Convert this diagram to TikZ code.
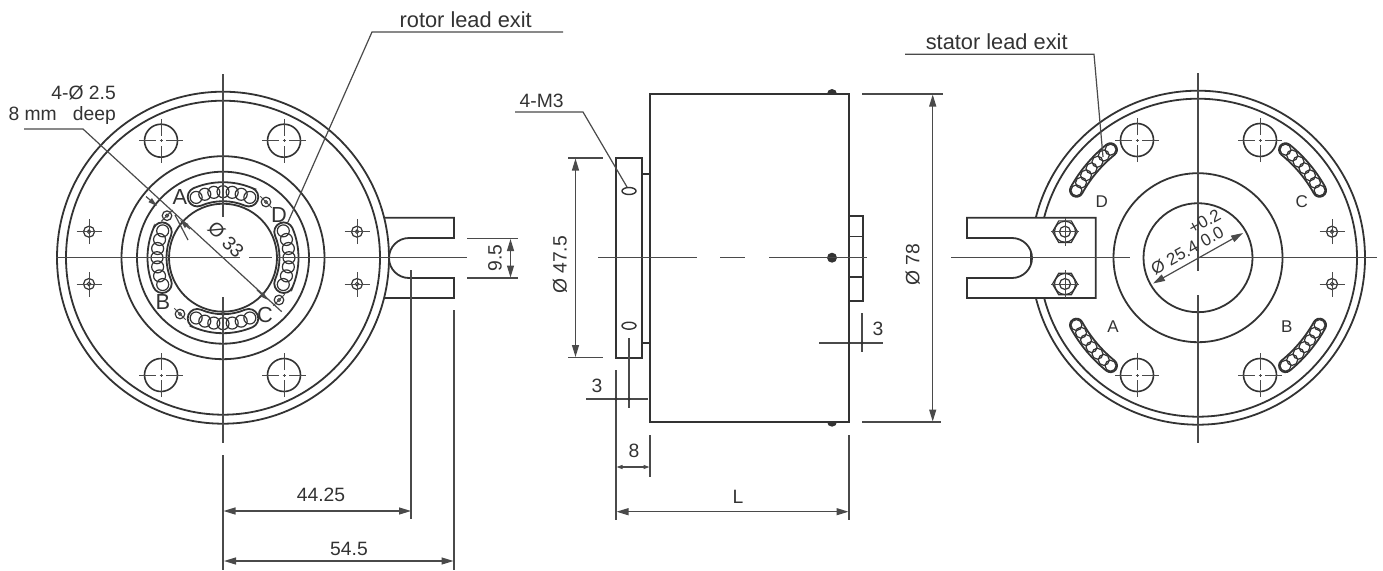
\documentclass[tikz,border=0pt]{standalone}
\usepackage{fontspec}
\setmainfont{Liberation Sans}
\usetikzlibrary{arrows.meta}
\definecolor{ink}{HTML}{333333}
\definecolor{inklight}{HTML}{4a4a4a}
\tikzset{
  part/.style={draw=ink,line width=1.8pt},
  ball/.style={draw=ink,line width=1.2pt},
  centre/.style={draw=inklight,line width=1.2pt},
  dimline/.style={draw=inklight,line width=1.2pt},
  tipboth/.style={dimline,{Stealth[length=12pt,width=7pt,inset=0pt]}-{Stealth[length=12pt,width=7pt,inset=0pt]}},
  tipsmall/.style={dimline,-{Stealth[length=9pt,width=5pt,inset=0pt]}},
  lbl/.style={inner sep=0pt,text=ink,font=\fontsize{19.3}{22}\selectfont},
  biglbl/.style={inner sep=0pt,text=ink,font=\fontsize{21.8}{24}\selectfont},
  midlbl/.style={inner sep=0pt,text=ink,font=\fontsize{17}{20}\selectfont},
  tickdot/.style={fill=ink,draw=none}
}
% big mounting hole: x y
\newcommand\bighole[2]{
  \draw[part,line width=1.6pt] (#1,#2) circle[radius=16.5];
  \draw[centre,line width=1pt] (#1-22,#2)--(#1-5,#2) (#1-1.5,#2)--(#1+1.5,#2) (#1+5,#2)--(#1+22,#2)
     (#1,#2-22)--(#1,#2-5) (#1,#2-1.5)--(#1,#2+1.5) (#1,#2+5)--(#1,#2+22);
}
% small threaded hole: x y
\newcommand\smallhole[2]{
  \draw[part,line width=1.2pt] (#1,#2) circle[radius=5.5];
  \draw[part,line width=1pt] (#1,#2) circle[radius=1.8];
  \draw[centre,line width=1pt] (#1-12.5,#2)--(#1+12.5,#2) (#1,#2-12.5)--(#1,#2+12.5);
}
% ring hole: x y angle
\newcommand\ringhole[3]{
  \draw[part,line width=1.2pt] (#1,#2) circle[radius=4.8];
  \draw[part,line width=.9pt] (#1,#2) circle[radius=1.6];
  \draw[centre,line width=1pt,shift={(#1,#2)}] (#3:8)--(#3+180:8);
}
% brush slot: cx cy radius a1 a2 halfwidth
\newcommand\slotarc[6]{
  \draw[part,shift={(#1,#2)}] (#4:{#3+#6})
    arc[start angle=#4,end angle=#5,radius={#3+#6}]
    arc[start angle=#5,end angle={#5+180},radius=#6]
    arc[start angle=#5,end angle=#4,radius={#3-#6}]
    arc[start angle={#4+180},end angle={#4+360},radius=#6] -- cycle;
}
% balls: cx cy radius ballradius list
\newcommand\slotballs[5]{
  \foreach \t in {#5} \draw[ball,shift={(#1,#2)}] (\t:#3) circle[radius=#4];
}
% bolt: x y
\newcommand\bolthead[2]{
  \draw[part,line width=1.2pt,shift={(#1,#2)}] (0:12.5)--(60:12.5)--(120:12.5)--(180:12.5)--(240:12.5)--(300:12.5)--cycle;
  \draw[part,line width=1.2pt] (#1,#2) circle[radius=10.5] (#1,#2) circle[radius=5.5];
  \draw[centre,line width=.9pt] (#1-14,#2)--(#1+14,#2) (#1,#2-14)--(#1,#2+14);
}
\begin{document}
\begin{tikzpicture}[x=1pt,y=1pt]
\useasboundingbox (0,0) rectangle (1383,-570);
\fill[white] (0,0) rectangle (1383,-570);

%% ===== LEFT VIEW =====
\coordinate (LC) at (223,-257.7);
\draw[part] (LC) circle[radius=166] (LC) circle[radius=157];
\draw[part] (LC) circle[radius=101.5] (LC) circle[radius=86] (LC) circle[radius=54];
\bighole{161}{-140.7}\bighole{284}{-140.7}\bighole{161}{-375}\bighole{284}{-375}
\smallhole{89}{-231.7}\smallhole{89}{-284}\smallhole{357}{-231.7}\smallhole{357}{-284}
\slotarc{223}{-257.7}{66}{67}{113}{9.5}
\slotarc{223}{-257.7}{66}{157}{203}{9.5}
\slotarc{223}{-257.7}{66}{247}{293}{9.5}
\slotarc{223}{-257.7}{66}{-23}{23}{9.5}
\slotballs{223}{-257.7}{66}{6}{66,74,82,90,98,106,114}
\slotballs{223}{-257.7}{66}{6}{156,164,172,180,188,196,204}
\slotballs{223}{-257.7}{66}{6}{246,254,262,270,278,286,294}
\slotballs{223}{-257.7}{66}{6}{-24,-16,-8,0,8,16,24}
\ringhole{167}{-215.7}{45}\ringhole{266}{-202}{135}\ringhole{279}{-300}{45}\ringhole{180}{-314}{135}
% fork
\draw[part] (384,-217.7)--(454,-217.7)--(454,-238)--(409,-238)
  arc[start angle=90,end angle=270,radius=20]--(454,-278)--(454,-298)--(384,-298);
% centre lines
\draw[centre] (56,-257.7)--(240,-257.7) (249,-257.7)--(272,-257.7) (277,-257.7)--(467,-257.7);
\draw[centre] (223,-74)--(223,-217) (223,-297)--(223,-443) (223,-455)--(223,-570);
% leaders
\coordinate (ldA) at (24,-129);
\coordinate (ldB) at (83,-129);
\coordinate (ldC) at (281.7,-311.7);
\draw[dimline] (ldA)--(ldB)--(LC)--(ldC);
\draw[tipsmall] (146,-196.5)--(157,-206);
\draw[tipsmall] (190,-229)--(180,-220);
\draw[tipsmall] (257,-290)--(268,-300);
\draw[dimline] (175,-215)--(188,-240);
\coordinate (roA) at (563,-32);
\coordinate (roB) at (372,-32);
\coordinate (roC) at (288,-222);
\draw[dimline] (roA)--(roB)--(roC);
% left dims
\draw[dimline] (411,-270)--(411,-519) (454,-310)--(454,-570);
\draw[dimline] (467,-238.5)--(518,-238.5) (467,-278)--(518,-278);
\draw[tipboth] (510.5,-239)--(510.5,-277.5);
\draw[tipboth] (223.5,-511)--(411,-511);
\draw[tipboth] (224,-561)--(453.5,-561);

\node[biglbl] (tRotor) at (465.7,-20) {rotor lead exit};
\node[lbl,anchor=east] (t4d) at (116,-93) {4-Ø 2.5};
\node[lbl,anchor=east] (t8) at (116,-116) {8 mm\ \ \ deep};
\node[biglbl] (tLA) at (180,-197) {A};
\node[biglbl] (tLD) at (279,-215) {D};
\node[biglbl] (tLC) at (265,-315) {C};
\node[biglbl] (tLB) at (163,-302) {B};
\node[lbl,rotate=-45] (t33) at (226,-240) {Ø 33};
\node[lbl] (t4425) at (321,-495) {44.25};
\node[lbl] (t545) at (349,-549) {54.5};
\node[lbl,rotate=90] (t95) at (495,-258) {9.5};

%% ===== MIDDLE VIEW =====
\fill[ink] (832,-94) circle[radius=5] (832,-421.7) circle[radius=5];
\draw[part,fill=white] (650,-94) rectangle (849,-421.7);
\draw[part] (616,-158) rectangle (642,-357.7);
\draw[part] (642,-174) -- (650,-174) (642,-342.7)--(650,-342.7);
\draw[part] (849,-215.7) rectangle (862.7,-300.7);
\draw[part,line width=1.3pt] (849,-236.7)--(862.7,-236.7) (849,-277)--(862.7,-277);
\draw[part,line width=1.4pt] (629,-191) ellipse[x radius=7,y radius=3.5];
\draw[part,line width=1.4pt] (629,-325.7) ellipse[x radius=7,y radius=3.5];
\fill[ink] (832,-257.7) circle[radius=5];
\draw[centre] (598,-257.7)--(696.7,-257.7) (720,-257.7)--(745,-257.7) (769,-257.7)--(867,-257.7);
% leader 4-M3
\coordinate (mA) at (515,-112);
\coordinate (mB) at (583,-112);
\coordinate (mC) at (627,-187);
\draw[dimline] (mA)--(mB)--(mC);
% dims
\draw[dimline] (568,-158)--(603,-158) (568,-357.7)--(603,-357.7);
\draw[tipboth] (575.5,-158.5)--(575.5,-357);
\draw[dimline] (616,-370)--(616,-520) (849,-435)--(849,-520);
\draw[dimline] (629,-338)--(629,-408);
\draw[dimline] (586,-399)--(648,-399);
\fill[tickdot] (616,-399) circle[radius=1.7] (629,-399) circle[radius=1.7];
\draw[dimline] (650,-435)--(650,-477);
\draw[dimline,{Stealth[length=6pt,width=4pt,inset=0pt]}-{Stealth[length=6pt,width=4pt,inset=0pt]}] (616.5,-467)--(649.5,-467);
\draw[tipboth] (616.5,-511.7)--(848.5,-511.7);
\draw[dimline] (862,-94)--(943,-94) (862,-422)--(941,-422);
\draw[tipboth] (932.7,-94.5)--(932.7,-421.5);
\draw[dimline] (819,-343)--(883,-343) (862,-313)--(862,-352);
\fill[tickdot] (849,-343) circle[radius=1.7] (862,-343) circle[radius=1.7];

\node[lbl] (tM3) at (541.7,-101) {4-M3};
\node[lbl,rotate=90] (t475) at (560,-265) {Ø 47.5};
\node[lbl] (t3a) at (597,-386) {3};
\node[lbl] (t8b) at (634,-451) {8};
\node[lbl] (tL) at (738,-497) {L};
\node[lbl,rotate=90] (t78) at (912.7,-265) {Ø 78};
\node[lbl] (t3b) at (878,-329) {3};

%% ===== RIGHT VIEW =====
\coordinate (RC) at (1198,-257.7);
\draw[part] (RC) circle[radius=167] (RC) circle[radius=159];
\draw[part] (RC) circle[radius=84.5] (RC) circle[radius=54.5];
\bighole{1137}{-140}\bighole{1260}{-140}\bighole{1137}{-375}\bighole{1260}{-375}
\smallhole{1332}{-231.7}\smallhole{1332}{-284}
\slotarc{1198}{-257.7}{139}{129}{151}{6.5}
\slotarc{1198}{-257.7}{139}{29}{51}{6.5}
\slotarc{1198}{-257.7}{139}{209}{231}{6.5}
\slotarc{1198}{-257.7}{139}{309}{331}{6.5}
\slotballs{1198}{-257.7}{139}{5.5}{129,132.67,136.33,140,143.67,147.33,151}
\slotballs{1198}{-257.7}{139}{5.5}{29,32.67,36.33,40,43.67,47.33,51}
\slotballs{1198}{-257.7}{139}{5.5}{209,212.67,216.33,220,223.67,227.33,231}
\slotballs{1198}{-257.7}{139}{5.5}{309,312.67,316.33,320,323.67,327.33,331}
\draw[part,fill=white] (1095.7,-217.7)--(967,-217.7)--(967,-238)--(1012,-238)
  arc[start angle=90,end angle=-90,radius=20]--(967,-278)--(967,-298)--(1095.7,-298)--cycle;
\bolthead{1065}{-231.7}\bolthead{1065}{-284}
\draw[centre] (951,-257.7)--(1130,-257.7) (1200,-257.7)--(1377,-257.7);
\draw[centre] (1198,-73)--(1198,-271) (1198,-295)--(1198,-443);
\draw[tipboth] (1153,-283.5)--(1243,-233);
\coordinate (sA) at (905,-54.3);
\coordinate (sB) at (1094,-54.3);
\coordinate (sC) at (1103,-157);
\draw[dimline] (sA)--(sB)--(sC);

\node[biglbl] (tStator) at (996.7,-41.7) {stator lead exit};
\node[midlbl] (tRD) at (1101.7,-201.7) {D};
\node[midlbl] (tRC) at (1301.7,-201.7) {C};
\node[midlbl] (tRA) at (1113,-327) {A};
\node[midlbl] (tRB) at (1286.7,-327) {B};
\node[midlbl,rotate=29] (t254) at (1174.5,-257.5) {Ø 25.4};
\node[midlbl,rotate=29] (t00) at (1212,-236.5) {0.0};
\node[midlbl,rotate=29] (t02) at (1204.5,-221.5) {+0.2};
\end{tikzpicture}
\end{document}
